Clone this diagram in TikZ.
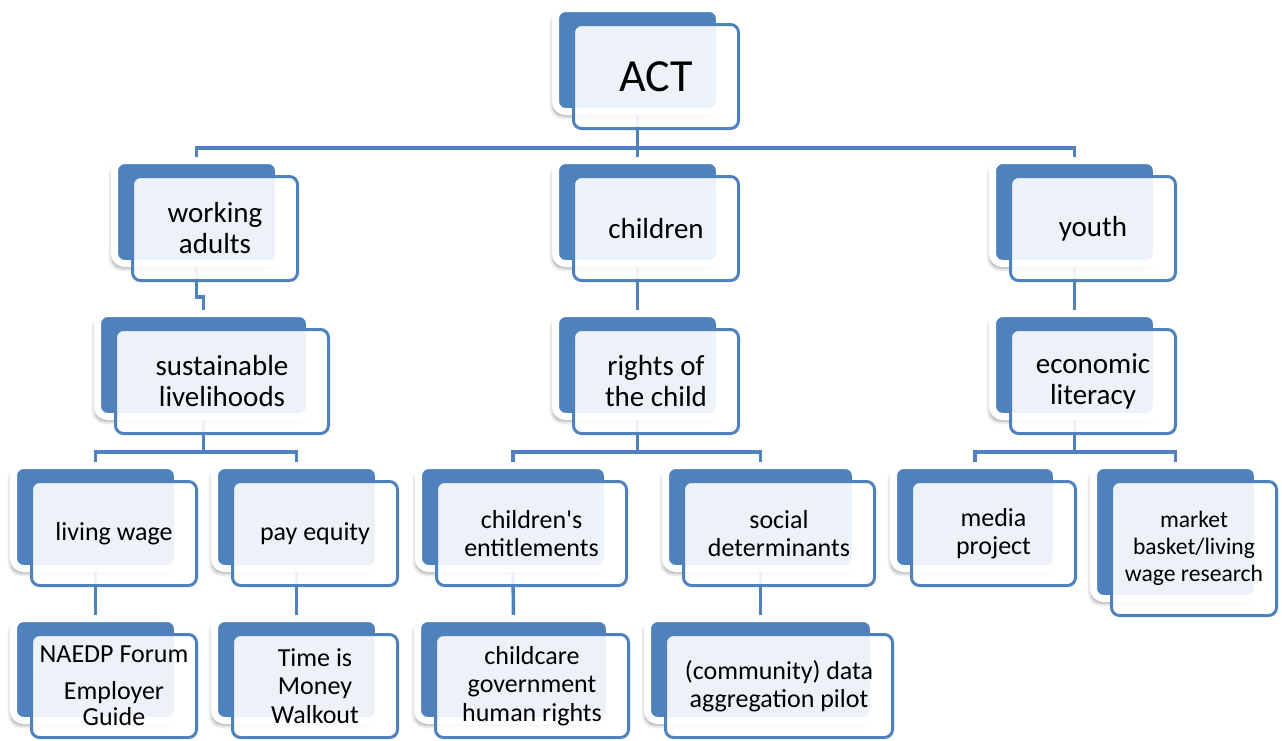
\documentclass[tikz,border=0pt]{standalone}
\usepackage{fontspec}
\setmainfont{Carlito}[Ligatures=TeXOff]
\usetikzlibrary{shadows.blur}
\definecolor{acc}{HTML}{4F81BD}
\pgfdeclarelayer{bg}
\pgfsetlayers{bg,main}
\tikzset{
  backbox/.style={draw=white, line width=7pt, fill=acc, rounded corners=10pt,
    inner sep=0pt, outer sep=0pt,
    blur shadow={shadow xshift=-2.5pt, shadow yshift=-4.5pt, shadow blur radius=4pt, shadow opacity=40}},
  frontbox/.style={draw=acc, line width=3pt, fill=white, fill opacity=0.9, text opacity=1,
    rounded corners=8pt, inner sep=0pt, outer sep=0pt, align=center, text=black},
  conn/.style={draw=acc, line width=3.5pt},
  fA/.style={font=\fontsize{46}{50}\selectfont},
  fB/.style={font=\fontsize{29}{31}\selectfont},
  fC/.style={font=\fontsize{26}{28.5}\selectfont},
  fD/.style={font=\fontsize{23.6}{27}\selectfont},
  fE/.style={font=\fontsize{26}{26.5}\selectfont},
}
\newcommand\MkBox[7]{%
  \node[backbox, minimum width={#4-#2+7}, minimum height={#5-#3+7}] (#1) at ({(#2+#4)/2},{(#3+#5)/2}) {};
  \node[frontbox, #7, minimum width={#4-#2+8}, minimum height={#5-#3+8}] (#1-t) at ({(#2+#4)/2+18.5},{(#3+#5)/2+16.5}) {#6};
}
\begin{document}
\begin{tikzpicture}[x=1pt, y=-1pt]
\useasboundingbox (0,0) rectangle (1282,740);
% level 0
\MkBox{ACT}{559}{12}{716}{108}{ACT}{fA}
% level 1
\MkBox{WA}{118}{164}{275}{260}{working\\adults}{fB}
\MkBox{CH}{559}{164}{716}{260}{children}{fB}
\MkBox{YO}{996}{164}{1153}{260}{youth}{fB}
% level 2
\MkBox{SL}{101}{317}{306}{413}{sustainable\\livelihoods}{fB}
\MkBox{RC}{559}{317}{716}{413}{rights of\\the child}{fB}
\MkBox{EL}{996}{317}{1153}{413}{economic\\literacy}{fB}
% level 3
\MkBox{LW}{17}{469}{174}{565}{living wage}{fC}
\MkBox{PE}{218}{469}{375}{565}{pay equity}{fC}
\MkBox{CE}{422}{469}{604}{565}{children's\\entitlements}{fC}
\MkBox{SD}{669}{469}{852}{565}{social\\determinants}{fC}
\MkBox{MP}{897}{469}{1053}{565}{media\\project}{fC}
\MkBox{MB}{1097}{469}{1254}{595}{market\\basket/living\\wage research}{fD}
% level 4
\MkBox{NF}{17}{622}{174}{717}{NAEDP Forum\\[10pt]Employer\\Guide}{fE}
\MkBox{TM}{218}{622}{375}{717}{Time is\\Money\\Walkout}{fC}
\MkBox{CG}{421}{622}{606}{717}{childcare\\government\\human rights}{fC}
\MkBox{CD}{651}{622}{870}{717}{(community) data\\aggregation pilot}{fC}
% connectors
\coordinate (b0) at (0,148);
\coordinate (j1) at (0,297);
\coordinate (b2) at (0,452);
\begin{pgfonlayer}{bg}
\draw[conn] (WA.north) -- (WA.north |- b0) -- (YO.north |- b0) -- (YO.north);
\draw[conn] (ACT.south) -- (CH.north);
\draw[conn] (WA.south) -- (WA.south |- j1) -| (SL.north);
\draw[conn] (CH.south) -- (RC.north);
\draw[conn] (YO.south) -- (EL.north);
\draw[conn] (SL.south) -- (SL.south |- b2);
\draw[conn] (LW.north) -- (LW.north |- b2) -- (PE.north |- b2) -- (PE.north);
\draw[conn] (RC.south) -- (RC.south |- b2);
\draw[conn] (CE.north) -- (CE.north |- b2) -- (SD.north |- b2) -- (SD.north);
\draw[conn] (EL.south) -- (EL.south |- b2);
\draw[conn] (MP.north) -- (MP.north |- b2) -- (MB.north |- b2) -- (MB.north);
\draw[conn] (LW.south) -- (NF.north);
\draw[conn] (PE.south) -- (TM.north);
\draw[conn] (CE.south) -- (CG.north);
\draw[conn] (SD.south) -- (CD.north);
\end{pgfonlayer}
\end{tikzpicture}
\end{document}
